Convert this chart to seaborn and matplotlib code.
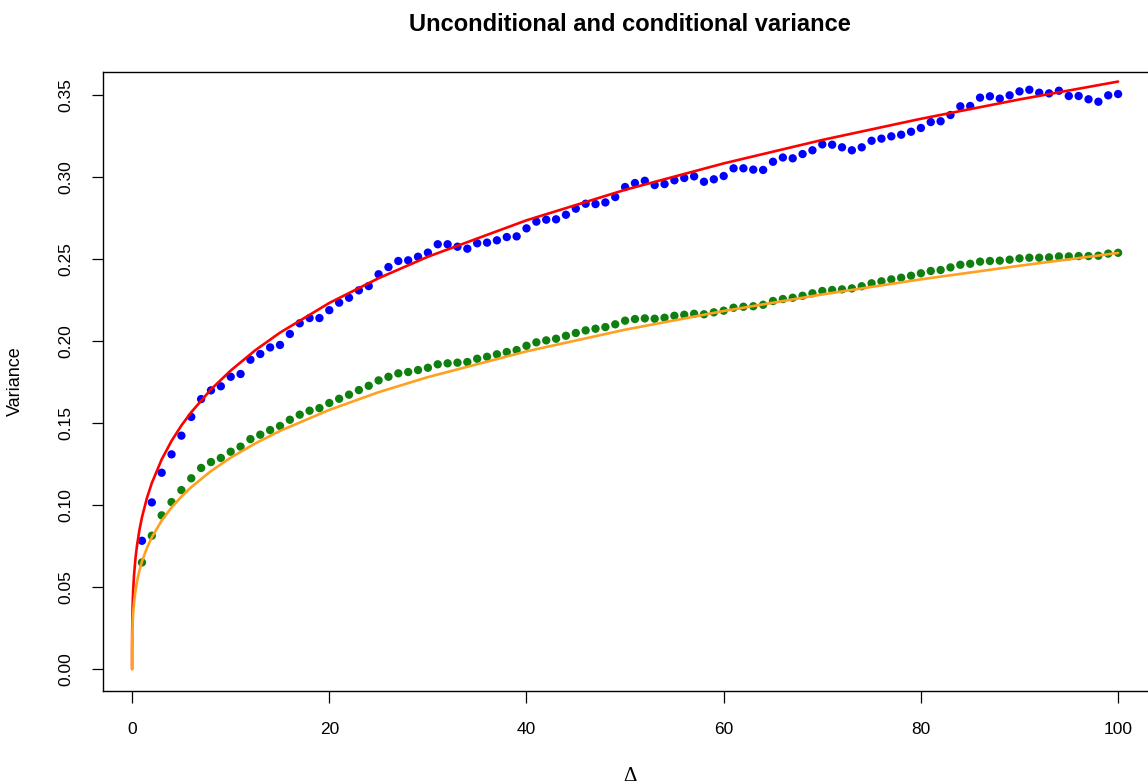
import matplotlib
matplotlib.use("Agg")
import matplotlib.pyplot as plt
import seaborn as sns
import pandas as pd

sns.set_style("white")
plt.rcParams['font.family'] = ['Liberation Sans', 'DejaVu Sans']
plt.rcParams['text.color'] = 'black'
plt.rcParams['axes.labelcolor'] = 'black'
plt.rcParams['xtick.color'] = 'black'
plt.rcParams['ytick.color'] = 'black'

# ---- data ----
lags = list(range(1, 101))
uncond_var = [
    0.0782, 0.1016, 0.1197, 0.1309, 0.1423, 0.1537, 0.1646, 0.1699, 0.1724, 0.1782,
    0.1799, 0.1886, 0.1921, 0.1961, 0.1976, 0.2043, 0.2108, 0.2140, 0.2140, 0.2188,
    0.2234, 0.2264, 0.2309, 0.2335, 0.2407, 0.2451, 0.2488, 0.2492, 0.2514, 0.2539,
    0.2590, 0.2590, 0.2575, 0.2563, 0.2596, 0.2600, 0.2614, 0.2634, 0.2638, 0.2687,
    0.2728, 0.2740, 0.2742, 0.2770, 0.2807, 0.2837, 0.2835, 0.2845, 0.2878, 0.2939,
    0.2963, 0.2977, 0.2951, 0.2957, 0.2980, 0.2994, 0.3004, 0.2971, 0.2986, 0.3006,
    0.3053, 0.3053, 0.3045, 0.3043, 0.3093, 0.3119, 0.3114, 0.3140, 0.3163, 0.3199,
    0.3197, 0.3181, 0.3163, 0.3181, 0.3221, 0.3234, 0.3248, 0.3258, 0.3276, 0.3299,
    0.3335, 0.3340, 0.3378, 0.3431, 0.3433, 0.3484, 0.3492, 0.3478, 0.3498, 0.3522,
    0.3532, 0.3514, 0.3510, 0.3526, 0.3494, 0.3494, 0.3474, 0.3459, 0.3498, 0.3506,
]
cond_var = [
    0.0650, 0.0813, 0.0937, 0.1018, 0.1091, 0.1163, 0.1226, 0.1262, 0.1287, 0.1325,
    0.1356, 0.1402, 0.1429, 0.1457, 0.1482, 0.1520, 0.1551, 0.1575, 0.1591, 0.1622,
    0.1648, 0.1673, 0.1701, 0.1727, 0.1760, 0.1782, 0.1803, 0.1811, 0.1823, 0.1837,
    0.1858, 0.1864, 0.1868, 0.1872, 0.1892, 0.1904, 0.1919, 0.1933, 0.1945, 0.1971,
    0.1992, 0.2004, 0.2014, 0.2032, 0.2049, 0.2065, 0.2075, 0.2085, 0.2102, 0.2124,
    0.2134, 0.2138, 0.2136, 0.2142, 0.2154, 0.2160, 0.2166, 0.2163, 0.2175, 0.2185,
    0.2203, 0.2209, 0.2212, 0.2221, 0.2244, 0.2256, 0.2264, 0.2276, 0.2291, 0.2305,
    0.2311, 0.2315, 0.2321, 0.2334, 0.2352, 0.2364, 0.2376, 0.2386, 0.2398, 0.2413,
    0.2427, 0.2433, 0.2449, 0.2465, 0.2471, 0.2484, 0.2488, 0.2490, 0.2496, 0.2504,
    0.2508, 0.2508, 0.2510, 0.2516, 0.2516, 0.2518, 0.2518, 0.2520, 0.2533, 0.2538,
]
curve_lags = [0, 0.001, 0.01, 0.05, 0.1, 0.2, 0.35, 0.5, 0.75, 1, 1.5, 2, 3, 4, 5, 6, 8,
              10, 12.5, 15, 20, 25, 30, 40, 50, 60, 70, 80, 90, 100]
uncond_curve = [0, 0.0121, 0.0239, 0.0383, 0.0470, 0.0576, 0.0679, 0.0754, 0.0850, 0.0925,
                0.1042, 0.1134, 0.1278, 0.1391, 0.1485, 0.1566, 0.1705, 0.1820, 0.1944,
                0.2051, 0.2232, 0.2383, 0.2514, 0.2736, 0.2922, 0.3083, 0.3226, 0.3355,
                0.3473, 0.3582]
cond_curve = [0, 0.0086, 0.0169, 0.0271, 0.0333, 0.0408, 0.0481, 0.0534, 0.0602, 0.0655,
              0.0738, 0.0803, 0.0905, 0.0985, 0.1051, 0.1109, 0.1207, 0.1289, 0.1376,
              0.1452, 0.1580, 0.1688, 0.1780, 0.1937, 0.2069, 0.2183, 0.2284, 0.2376,
              0.2459, 0.2537]
yticks = [0.00, 0.05, 0.10, 0.15, 0.20, 0.25, 0.30, 0.35]
xticks = [0, 20, 40, 60, 80, 100]

pts = pd.DataFrame({"lag": lags, "uncond": uncond_var, "cond": cond_var})
crv = pd.DataFrame({"lag": curve_lags, "uncond": uncond_curve, "cond": cond_curve})

fig = plt.figure(figsize=(11.48, 7.84), dpi=100)
ax = fig.add_axes([0.0893, 0.1186, 0.919, 0.7895])

sns.scatterplot(data=pts, x="lag", y="uncond", ax=ax, color="#0000FF", s=36,
                edgecolor="none", zorder=3)
sns.scatterplot(data=pts, x="lag", y="cond", ax=ax, color="#0F800F", s=36,
                edgecolor="none", zorder=3)
sns.lineplot(data=crv, x="lag", y="uncond", ax=ax, color="#FF0000", linewidth=1.9,
             zorder=4)
sns.lineplot(data=crv, x="lag", y="cond", ax=ax, color="#FFA020", linewidth=1.9,
             zorder=4)

ax.set_xlim(-3, 104)
ax.set_ylim(-0.0134, 0.364)
ax.set_xticks(xticks)
ax.set_xticklabels([str(v) for v in xticks])
ax.set_yticks(yticks)
ax.set_yticklabels([f"{v:.2f}" for v in yticks], rotation=90, va="center")

for sp in ax.spines.values():
    sp.set_color("black")
    sp.set_linewidth(1.0)

ax.tick_params(axis="x", direction="out", length=8.5, width=0.9, pad=14,
               labelsize=12.5, color="black", bottom=True)
ax.tick_params(axis="y", direction="out", length=8, width=0.9, pad=13,
               labelsize=12.5, color="black", left=True)

ax.set_title("Unconditional and conditional variance", fontsize=17,
             fontweight="bold", color="black", y=1 + (72 - 31) / 619,
             va="baseline", pad=0)
ax.set_xlabel("Δ", fontsize=15, family=["Liberation Serif", "DejaVu Serif"])
ax.xaxis.set_label_coords(0.5, -0.123)
ax.set_ylabel("Variance", fontsize=13)
ax.yaxis.set_label_coords(-0.0745, 0.5)

fig.savefig("out.png", dpi=100)
